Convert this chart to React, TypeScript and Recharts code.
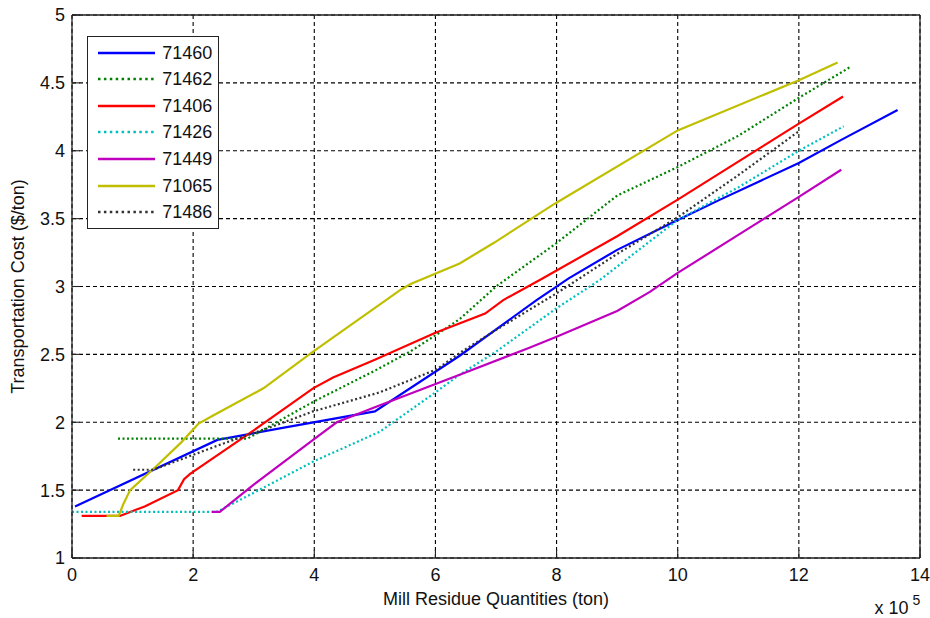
import { LineChart, Line, XAxis, YAxis, CartesianGrid, Legend, Label } from "recharts";

const FONT = '"Liberation Sans", Arial, Helvetica, sans-serif';
const INK = "#111";

const X_TICKS = [0, 2, 4, 6, 8, 10, 12, 14];
const Y_TICKS = [1, 1.5, 2, 2.5, 3, 3.5, 4, 4.5, 5];

// [quantity (x 1e5 ton), cost ($/ton)]
const s71460: [number, number][] = [
  [0.05, 1.38], [2.4, 1.87], [3.5, 1.96], [5.0, 2.08], [6.4, 2.49], [7.67, 2.9],
  [8.2, 3.06], [9.0, 3.27], [10.0, 3.49], [10.7, 3.64], [12.0, 3.91], [12.7, 4.08], [13.63, 4.3],
];
const s71462: [number, number][] = [
  [0.76, 1.88], [2.9, 1.88], [3.3, 1.98], [3.98, 2.15], [5.0, 2.38], [5.58, 2.52],
  [6.0, 2.64], [6.4, 2.76], [7.0, 3.0], [8.0, 3.32], [9.0, 3.67], [10.0, 3.88],
  [11.0, 4.11], [12.0, 4.39], [12.86, 4.62],
];
const s71406: [number, number][] = [
  [0.16, 1.31], [0.79, 1.31], [1.2, 1.38], [1.75, 1.5], [1.85, 1.58], [1.95, 1.62],
  [3.0, 1.94], [3.98, 2.25], [4.31, 2.33], [5.0, 2.46], [6.0, 2.66], [6.82, 2.8],
  [7.12, 2.9], [7.73, 3.05], [9.0, 3.37], [10.0, 3.64], [11.0, 3.92], [12.0, 4.2], [12.73, 4.4],
];
const s71426: [number, number][] = [
  [0.0, 1.34], [2.39, 1.34], [3.0, 1.48], [3.98, 1.71], [5.08, 1.93], [6.0, 2.22],
  [6.4, 2.35], [7.0, 2.52], [8.0, 2.84], [8.72, 3.05], [10.0, 3.49], [11.0, 3.73],
  [12.0, 4.0], [12.74, 4.18],
];
const s71449: [number, number][] = [
  [2.31, 1.34], [2.44, 1.34], [3.0, 1.54], [3.98, 1.87], [4.37, 2.0], [5.0, 2.11],
  [6.4, 2.35], [7.5, 2.54], [8.0, 2.63], [9.0, 2.82], [9.54, 2.96], [10.0, 3.1],
  [11.0, 3.38], [12.0, 3.66], [12.7, 3.86],
];
const s71065: [number, number][] = [
  [0.57, 1.31], [0.77, 1.31], [0.85, 1.4], [0.96, 1.5], [1.4, 1.68], [1.8, 1.85],
  [2.09, 1.99], [2.33, 2.05], [3.16, 2.25], [3.98, 2.52], [5.44, 2.98], [5.6, 3.02],
  [6.4, 3.17], [6.96, 3.32], [7.97, 3.61], [10.0, 4.15], [12.0, 4.52], [12.64, 4.65],
];
const s71486: [number, number][] = [
  [1.01, 1.65], [1.34, 1.65], [2.0, 1.76], [2.6, 1.86], [3.32, 1.97], [3.98, 2.08],
  [5.08, 2.22], [6.02, 2.39], [6.4, 2.51], [7.0, 2.68], [8.0, 2.95], [9.0, 3.24],
  [10.0, 3.51], [11.0, 3.82], [12.02, 4.15],
];

const SERIES = [
  { name: "71460", pts: s71460, color: "#0000FF", dotted: false },
  { name: "71462", pts: s71462, color: "#008000", dotted: true },
  { name: "71406", pts: s71406, color: "#FF0000", dotted: false },
  { name: "71426", pts: s71426, color: "#00BFBF", dotted: true },
  { name: "71449", pts: s71449, color: "#BF00BF", dotted: false },
  { name: "71065", pts: s71065, color: "#BFBF00", dotted: false },
  { name: "71486", pts: s71486, color: "#333333", dotted: true },
];

const DOTS = "2 2.5";

function MatlabLegend() {
  return (
    <div
      style={{
        boxSizing: "border-box", width: 132, height: 193, paddingTop: 2.4,
        border: "1.3px solid #222", background: "#fff",
      }}
    >
      {SERIES.map((s) => (
        <div key={s.name} style={{ display: "flex", alignItems: "center", height: 26.6 }}>
          <svg width={57} height={6} style={{ display: "block", marginLeft: 10.3 }}>
            <line
              x1={0} y1={3} x2={57} y2={3}
              stroke={s.color} strokeWidth={2.5}
              strokeDasharray={s.dotted ? "2.5 3.4" : undefined}
            />
          </svg>
          <span style={{ marginLeft: 7, fontSize: 18, lineHeight: "20px", color: INK, fontFamily: FONT }}>
            {s.name}
          </span>
        </div>
      ))}
    </div>
  );
}

function Exponent({ viewBox }: any) {
  const right = viewBox.x + viewBox.width;
  const bottom = viewBox.y + viewBox.height;
  return (
    <g fontFamily={FONT} fill={INK}>
      <text x={right - 11.5} y={bottom - 4} fontSize={18} textAnchor="end">x 10</text>
      <text x={right - 7.5} y={bottom - 13} fontSize={14}>5</text>
    </g>
  );
}

export default function App() {
  const tickStyle = { fontSize: 18, fill: INK, fontFamily: FONT };
  const axisLine = { stroke: "#222", strokeWidth: 1.3 };
  const tickLine = { stroke: "#222", strokeWidth: 1.1 };

  return (
    <div style={{ position: "absolute", left: 0, top: 0, width: 930, height: 618, background: "#fff" }}>
      <LineChart
        width={930}
        height={618}
        margin={{ top: 14, right: 9, bottom: 0, left: 0 }}
        style={{ fontFamily: FONT }}
      >
        <CartesianGrid stroke="#000" strokeWidth={1.1} strokeDasharray="4 3" />
        <XAxis
          dataKey="x" type="number" domain={[0, 14]} ticks={X_TICKS}
          height={60} tickSize={-8} tickMargin={18}
          tick={tickStyle} axisLine={axisLine} tickLine={tickLine}
          allowDataOverflow
        >
          <Label
            value="Mill Residue Quantities (ton)"
            position="insideBottom" offset={13}
            style={{ fontSize: 18, fill: INK, fontFamily: FONT }}
          />
          <Label content={Exponent} />
        </XAxis>
        <XAxis
          xAxisId="top" orientation="top" type="number" domain={[0, 14]} ticks={X_TICKS}
          height={1} tickSize={8} tickFormatter={() => ""}
          axisLine={axisLine} tickLine={tickLine}
        />
        <YAxis
          type="number" domain={[1, 5]} ticks={Y_TICKS}
          width={72} tickSize={-8} tickMargin={15}
          tick={tickStyle} axisLine={axisLine} tickLine={tickLine}
          allowDataOverflow
        >
          <Label
            value="Transportation Cost ($/ton)"
            angle={-90} position="insideLeft" offset={18}
            style={{ fontSize: 18, fill: INK, fontFamily: FONT, textAnchor: "middle" }}
          />
        </YAxis>
        <YAxis
          yAxisId="right" orientation="right" type="number" domain={[1, 5]} ticks={Y_TICKS}
          width={1} tickSize={-8} tickFormatter={() => ""}
          axisLine={axisLine} tickLine={tickLine}
        />
        {SERIES.map((s) => (
          <Line
            key={s.name}
            name={s.name}
            data={s.pts.map(([x, y]) => ({ x, y }))}
            dataKey="y"
            type="linear"
            stroke={s.color}
            strokeWidth={2.2}
            strokeDasharray={s.dotted ? DOTS : undefined}
            dot={false}
            activeDot={false}
            isAnimationActive={false}
          />
        ))}
        <Legend
          layout="vertical" align="center" verticalAlign="middle"
          wrapperStyle={{ left: 87, top: 36, width: 132, height: 193 }}
          content={<MatlabLegend />}
        />
      </LineChart>
    </div>
  );
}
